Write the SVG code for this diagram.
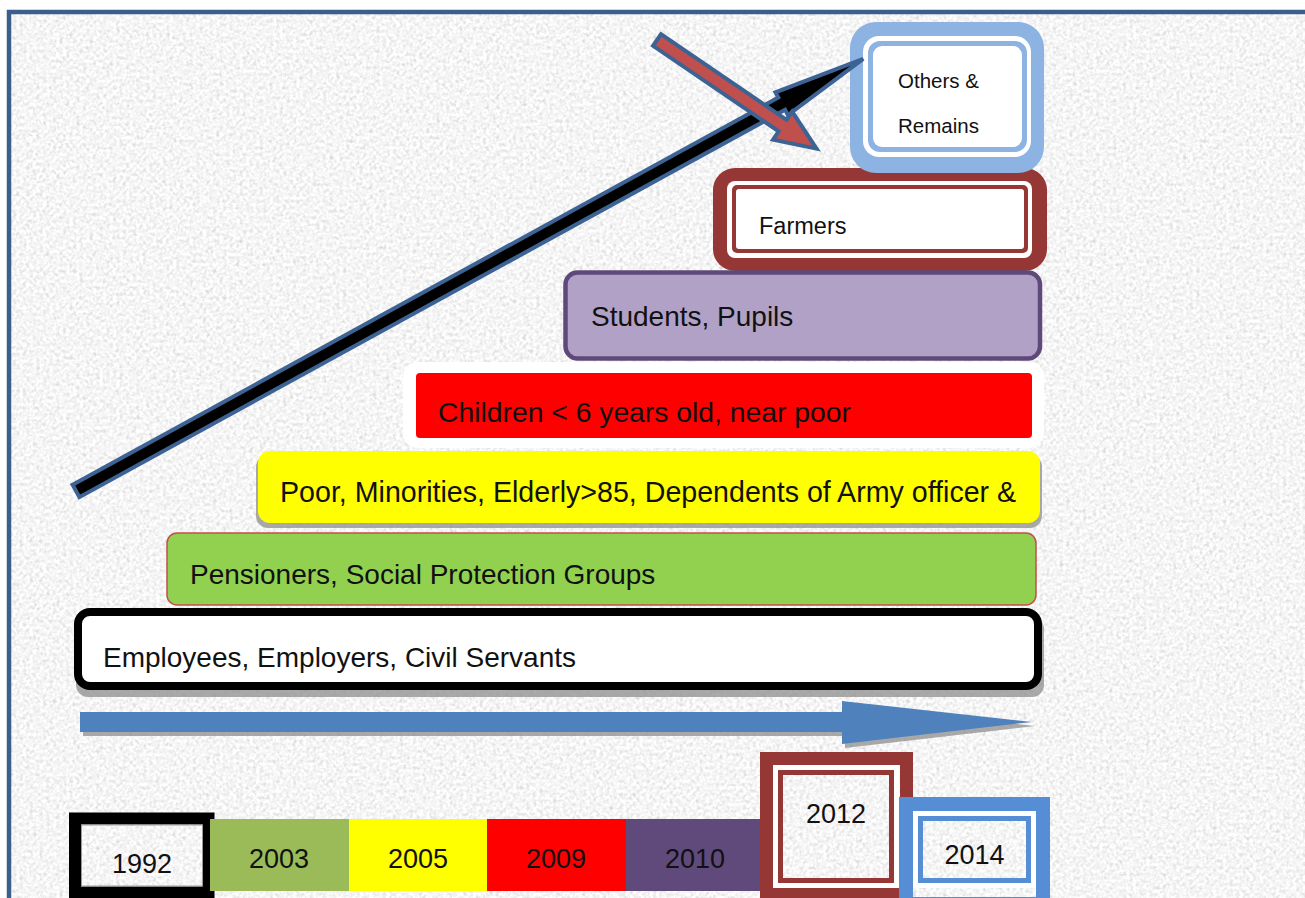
<svg xmlns="http://www.w3.org/2000/svg" width="1305" height="898" viewBox="0 0 1305 898">
  <defs>
    <!-- speckled stone-like paper texture -->
    <filter id="grain" x="0" y="0" width="100%" height="100%" color-interpolation-filters="sRGB">
      <feTurbulence type="fractalNoise" baseFrequency="0.3" numOctaves="2" seed="7" result="n"/>
      <feColorMatrix in="n" type="matrix" values="0.33 0.33 0.33 0 0  0.33 0.33 0.33 0 0  0.33 0.33 0.33 0 0  0 0 0 0 1" result="g"/>
      <feComponentTransfer in="g">
        <feFuncR type="linear" slope="0.45" intercept="0.74"/>
        <feFuncG type="linear" slope="0.45" intercept="0.74"/>
        <feFuncB type="linear" slope="0.45" intercept="0.74"/>
      </feComponentTransfer>
    </filter>
    <style>
      .lbl { font-family: "Liberation Sans", Arial, sans-serif; fill: #111; }
      .big { font-size: 28px; }
      .yr { font-size: 27px; text-anchor: middle; }
      .shadow { fill: #8e8e8e; opacity: 0.75; }
      .arrowline { stroke: #3C6394; stroke-width: 4; stroke-linejoin: miter; }
    </style>
  </defs>

  <!-- page background and frame -->
  <rect x="0" y="0" width="1305" height="898" fill="#ffffff"/>
  <rect x="9" y="12" width="1296" height="886" filter="url(#grain)"/>
  <path d="M9,898 V12 H1305" fill="none" stroke="#3A5F8C" stroke-width="4.5"/>

  <!-- coverage tiers, bottom to top -->
  <g id="tier-employees">
    <rect class="shadow" x="76" y="617" width="968" height="80" rx="12"/>
    <rect x="78" y="612" width="960" height="74" rx="12" fill="#ffffff" stroke="#000000" stroke-width="8"/>
    <text class="lbl big" x="103" y="667">Employees, Employers, Civil Servants</text>
  </g>

  <g id="tier-pensioners">
    <rect x="167" y="533" width="869" height="72" rx="10" fill="#92D050" stroke="#C0504D" stroke-width="1.5"/>
    <text class="lbl big" x="190" y="584">Pensioners, Social Protection Groups</text>
  </g>

  <g id="tier-poor">
    <rect class="shadow" x="256" y="455" width="786" height="73" rx="12"/>
    <rect x="258" y="451" width="782" height="72" rx="12" fill="#FFFF00"/>
    <text class="lbl" x="280" y="502" font-size="28.6">Poor, Minorities, Elderly&gt;85, Dependents of Army officer &amp;</text>
  </g>

  <g id="tier-children">
    <rect x="403" y="362" width="641" height="86" rx="15" fill="#ffffff"/>
    <rect x="416" y="373" width="616" height="65" rx="4" fill="#FF0000"/>
    <text class="lbl" x="438" y="422" font-size="28.3">Children &lt; 6 years old, near poor</text>
  </g>

  <g id="tier-farmers">
    <rect x="713" y="168" width="334" height="103" rx="22" fill="#953735"/>
    <rect x="727" y="181" width="305" height="77" rx="8" fill="#ffffff"/>
    <rect x="732" y="185" width="296" height="68" rx="5" fill="#953735"/>
    <rect x="736" y="189" width="288" height="60" rx="3" fill="#ffffff"/>
    <text class="lbl" x="759" y="234" font-size="23.5">Farmers</text>
  </g>

  <g id="tier-students">
    <rect x="565.5" y="272.5" width="474.5" height="86" rx="12" fill="#B2A1C7" stroke="#5F497A" stroke-width="4.5"/>
    <text class="lbl big" x="591" y="326">Students, Pupils</text>
  </g>

  <g id="tier-others">
    <rect x="850" y="22" width="194" height="151" rx="26" fill="#8DB3E2"/>
    <rect x="863" y="36" width="168" height="121" rx="16" fill="#ffffff"/>
    <rect x="868" y="41" width="159" height="111" rx="12" fill="#8DB3E2"/>
    <rect x="873" y="46" width="149" height="101" rx="9" fill="#ffffff"/>
    <text class="lbl" x="898" y="88" font-size="20.5">Others &amp;</text>
    <text class="lbl" x="898" y="133" font-size="20.5">Remains</text>
  </g>

  <!-- year markers along the bottom -->
  <g id="year-1992">
    <rect x="75" y="818.5" width="133.5" height="74" fill="none" stroke="#000000" stroke-width="12"/>
    <rect x="81.5" y="825" width="121" height="61" fill="none" stroke="#9a9a9a" stroke-width="1"/>
    <text class="lbl yr" x="142" y="873">1992</text>
  </g>
  <g id="year-2003">
    <rect x="210" y="819" width="139" height="72" fill="#9BBB59"/>
    <text class="lbl yr" x="279" y="868">2003</text>
  </g>
  <g id="year-2005">
    <rect x="349" y="819" width="138" height="72" fill="#FFFF00"/>
    <text class="lbl yr" x="418" y="868">2005</text>
  </g>
  <g id="year-2009">
    <rect x="487" y="819" width="139" height="72" fill="#FF0000"/>
    <text class="lbl yr" x="556" y="868">2009</text>
  </g>
  <g id="year-2010">
    <rect x="626" y="819" width="136" height="72" fill="#604A7B"/>
    <text class="lbl yr" x="695" y="868">2010</text>
  </g>
  <g id="year-2012">
    <rect x="766.5" y="758.5" width="140" height="136" fill="none" stroke="#953735" stroke-width="13"/>
    <rect x="775.5" y="767.5" width="121" height="118" fill="none" stroke="#ffffff" stroke-width="5"/>
    <rect x="780.5" y="772.5" width="111" height="108" fill="none" stroke="#953735" stroke-width="5"/>
    <text class="lbl yr" x="836" y="823" font-size="27.5">2012</text>
  </g>
  <g id="year-2014">
    <rect x="906" y="804" width="137" height="100" fill="none" stroke="#558ED5" stroke-width="14"/>
    <rect x="915.5" y="813.5" width="118" height="72" fill="none" stroke="#ffffff" stroke-width="5"/>
    <rect x="920.5" y="818.5" width="108" height="62" fill="none" stroke="#558ED5" stroke-width="5"/>
    <text class="lbl yr" x="974.5" y="864" font-size="23.5">2014</text>
  </g>

  <!-- arrows -->
  <g id="connectors">
    <!-- timeline arrow with drop shadow -->
    <path class="shadow" d="M83,716 H845 V705 L1035,726 L845,748 V736 H83 Z"/>
    <path d="M80,712 H842 V701 L1032,722 L842,744 V732 H80 Z" fill="#4F81BD"/>
    <!-- rising coverage arrow -->
    <path class="arrowline" fill="#000000" transform="translate(76,491) rotate(-28.76)"
          d="M0,-7 L805,-7 L805,-13 L898,0 L805,13 L805,7 L0,7 Z"/>
    <!-- downward pointer -->
    <path class="arrowline" fill="#C0504D" transform="translate(657,40) rotate(34.27)"
          d="M0,-7 L152,-7 L152,-17 L193,0 L152,17 L152,7 L0,7 Z"/>
  </g>
</svg>
